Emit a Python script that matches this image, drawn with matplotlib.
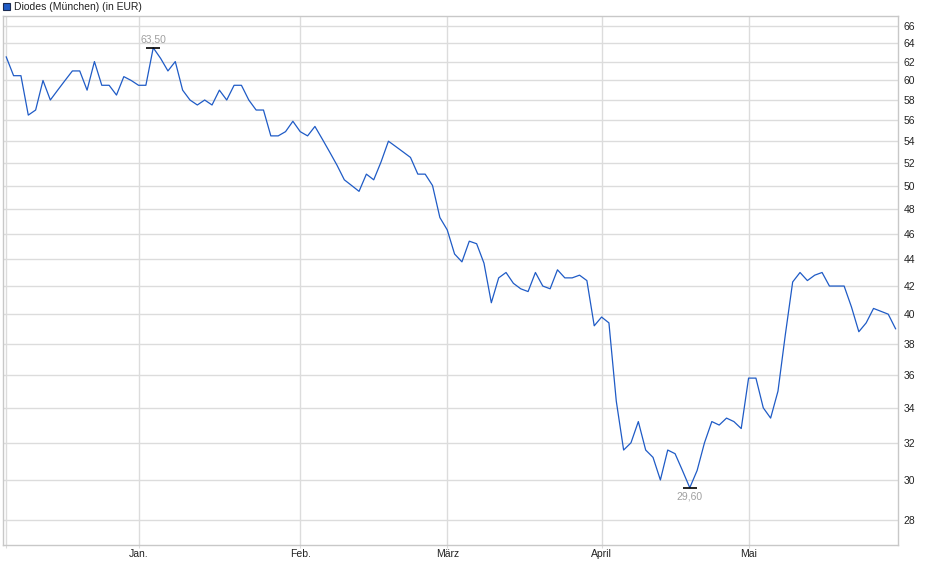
import numpy as np
import matplotlib
matplotlib.use("Agg")
import matplotlib.pyplot as plt
from matplotlib.ticker import FixedLocator, NullLocator
from matplotlib.patches import Rectangle

plt.rcParams['font.family'] = ['Liberation Sans', 'DejaVu Sans']

# Diodes (Muenchen), daily closes, Dec 2024 - May 2025 (trading days)
prices = [62.5, 60.5, 60.5, 56.5, 57.0, 60.0, 58.0, 59.0, 60.0, 61.0,
          61.0, 59.0, 62.0, 59.5, 59.5, 58.5, 60.4, 60.0, 59.5, 59.5,
          63.5, 62.35, 61.0, 62.0, 59.0, 58.0, 57.5, 58.0, 57.5, 59.0,
          58.0, 59.5, 59.5, 58.0, 57.0, 57.0, 54.5, 54.5, 54.9, 55.9,
          54.9, 54.5, 55.4, 54.2, 53.0, 51.8, 50.5, 50.0, 49.5, 51.0,
          50.5, 52.1, 54.0, 53.5, 53.0, 52.5, 51.0, 51.0, 50.0, 47.3,
          46.3, 44.4, 43.8, 45.4, 45.2, 43.7, 40.8, 42.6, 43.0, 42.2,
          41.8, 41.6, 43.0, 42.0, 41.8, 43.2, 42.6, 42.6, 42.8, 42.4,
          39.2, 39.8, 39.4, 34.4, 31.6, 32.0, 33.2, 31.6, 31.2, 30.0,
          31.6, 31.4, 30.5, 29.6, 30.5, 32.0, 33.2, 33.0, 33.4, 33.2,
          32.8, 35.8, 35.8, 34.0, 33.4, 35.0, 38.6, 42.3, 43.0, 42.4,
          42.8, 43.0, 42.0, 42.0, 42.0, 40.5, 38.8, 39.4, 40.4, 40.2,
          40.0, 39.0]

# index of first trading day of each month
month_idx = [0, 18, 40, 60, 81, 101]
month_labels = ['', 'Jan.', 'Feb.', 'März', 'April', 'Mai']
y_ticks = list(range(28, 67, 2))

x = np.arange(len(prices))
y = np.array(prices)

grid_c = '#dcdcdc'
frame_c = '#c8c8c8'

fig = plt.figure(figsize=(9.4, 5.79), dpi=100)
ax = fig.add_axes([3 / 940, 34 / 579, 895 / 940, 529 / 579])

ax.plot(x, y, color='#1f5bc6', lw=0.9, zorder=3)

ax.set_yscale('log')
ax.set_ylim(26.8, 67.1)
ax.set_xlim(-0.44, 121.33)

ax.yaxis.set_major_locator(FixedLocator(y_ticks))
ax.yaxis.set_minor_locator(NullLocator())
ax.set_yticklabels([str(v) for v in y_ticks])
ax.yaxis.tick_right()
ax.tick_params(axis='y', length=0, pad=4, labelsize=7.5, labelcolor='#222222')

ax.xaxis.set_major_locator(FixedLocator(month_idx))
ax.xaxis.set_minor_locator(NullLocator())
ax.set_xticklabels(month_labels)
ax.tick_params(axis='x', length=2, color=grid_c, pad=1, labelsize=7.5, labelcolor='#222222')

ax.grid(True, color=grid_c, lw=1.0, zorder=0)
for s in ax.spines.values():
    s.set_color(frame_c)
    s.set_linewidth(1.0)

# high / low markers
i_hi = int(np.argmax(y))
i_lo = int(np.argmin(y))
ax.plot([i_hi], [y[i_hi]], marker='_', ms=10, mew=1.2, color='black', zorder=4)
ax.plot([i_lo], [y[i_lo]], marker='_', ms=10, mew=1.2, color='black', zorder=4)
ax.annotate(f"{y[i_hi]:.2f}".replace('.', ','), (i_hi, y[i_hi]), xytext=(0, 2.5),
            textcoords='offset points', ha='center', va='bottom',
            fontsize=7.5, color='#a0a0a0')
ax.annotate(f"{y[i_lo]:.2f}".replace('.', ','), (i_lo, y[i_lo]), xytext=(0, -3),
            textcoords='offset points', ha='center', va='top',
            fontsize=7.5, color='#a0a0a0')

# legend box top left
fig.patches.append(Rectangle((3 / 940, 1 - 10 / 579), 7 / 940, 7 / 579,
                             transform=fig.transFigure, facecolor='#1f5bc6',
                             edgecolor='#1a2a50', lw=0.8))
fig.text(14 / 940, 1 - 6.5 / 579, 'Diodes (München) (in EUR)', fontsize=7.5,
         va='center', ha='left', color='#222222')

fig.savefig('out.png', dpi=100)
